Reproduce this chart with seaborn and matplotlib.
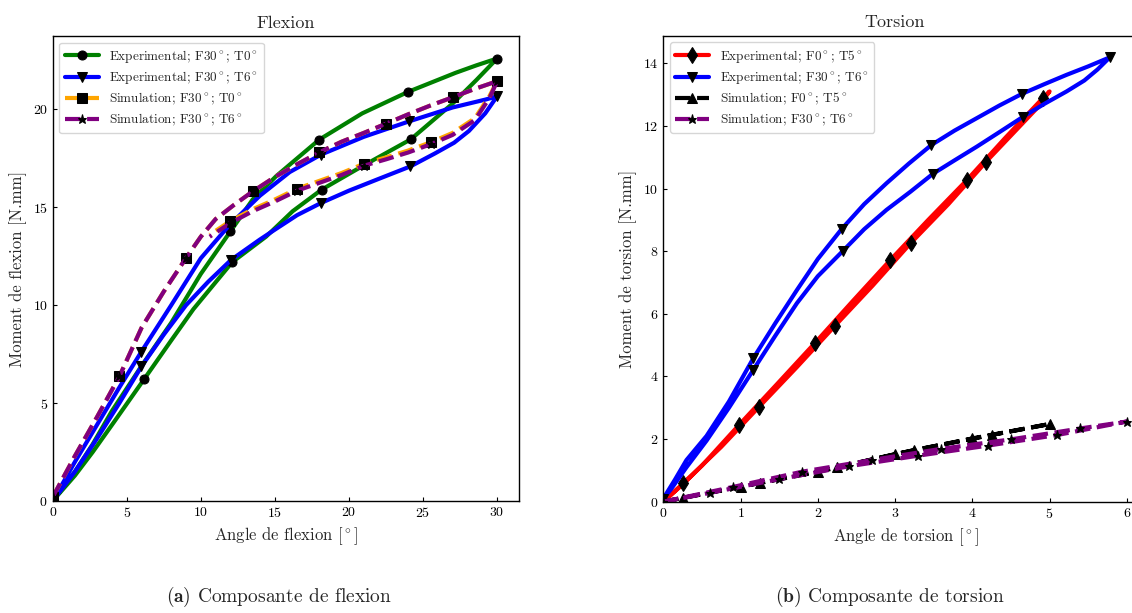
import matplotlib
matplotlib.use("Agg")
import matplotlib.pyplot as plt
import seaborn as sns

# ==========================
# Flexion data (hysteresis loops, loading then unloading)
# ==========================
flex_exp_t0_x = [0, 1.5, 2.7, 4.2, 6.17, 8.0, 9.5, 12.12, 14.4, 16.2, 18.15, 20.9, 24.17, 27.0, 28.6, 30.0,
                 28.6, 27.2, 24.0, 20.9, 18.0, 16.5, 15.1, 13.5, 12.0, 10.0, 8.0, 6.0, 4.0, 2.7, 1.5, 0]
flex_exp_t0_y = [0, 1.3, 2.5, 4.1, 6.22, 8.2, 9.8, 12.2, 13.5, 14.8, 15.9, 17.1, 18.47, 20.3, 21.5, 22.6,
                 22.25, 21.87, 20.9, 19.8, 18.46, 17.5, 16.6, 15.4, 13.77, 11.6, 9.1, 6.9, 4.6, 2.9, 1.5, 0]
flex_exp_t0_marks = [0, 4, 7, 10, 12, 15, 18, 20, 24]

flex_exp_t6_x = [0, 1.5, 3.0, 4.5, 5.99, 7.5, 9.0, 10.5, 12.05, 13.96, 15.08, 16.5, 18.11, 20.0, 22.0, 24.15,
                 25.8, 27.1, 28.1, 29.2, 30.0,
                 29.2, 27.0, 24.06, 21.0, 18.11, 16.0, 14.0, 11.94, 10.0, 8.0, 5.99, 4.5, 3.0, 1.5, 0]
flex_exp_t6_y = [0, 1.5, 3.2, 5.0, 6.87, 8.5, 10.0, 11.2, 12.32, 13.34, 13.9, 14.6, 15.22, 15.85, 16.45, 17.09,
                 17.75, 18.3, 18.9, 19.8, 20.67,
                 20.5, 20.1, 19.39, 18.6, 17.69, 16.8, 15.6, 14.1, 12.4, 10.0, 7.63, 5.8, 3.9, 2.0, 0]
flex_exp_t6_marks = [0, 4, 8, 12, 15, 20, 23, 25, 28, 31]

flex_sim_t0_x = [0, 1.5, 3.0, 4.5, 6.0, 7.5, 9.0, 10.0, 11.0, 12.2, 13.5, 15.0, 16.5, 18.0, 19.5, 21.0, 22.5,
                 24.0, 25.5, 27.0, 28.5, 30.0,
                 29.5, 28.5, 27.0, 25.55, 24.0, 22.5, 21.03, 19.5, 18.0, 16.5, 15.0, 13.5, 12.0, 10.6]
flex_sim_t0_y = [0.2, 2.3, 4.3, 6.36, 8.85, 10.7, 12.41, 13.5, 14.4, 15.1, 15.81, 16.55, 17.2, 17.81, 18.35,
                 18.8, 19.27, 19.75, 20.2, 20.62, 21.05, 21.44,
                 20.7, 19.55, 18.8, 18.33, 17.9, 17.55, 17.23, 16.75, 16.35, 15.95, 15.4, 14.9, 14.3, 13.6]
flex_sim_t0_marks = [0, 3, 6, 10, 13, 16, 19, 21, 25, 28, 31, 34]

flex_sim_t6_x = [0, 1.5, 3.0, 4.5, 6.0, 7.5, 9.0, 10.0, 11.0, 12.2, 13.5, 15.0, 16.5, 18.0, 19.5, 21.0, 22.5,
                 24.0, 25.5, 27.0, 28.5, 30.0,
                 29.5, 28.5, 27.0, 25.55, 24.0, 22.5, 21.03, 19.5, 18.0, 16.5, 15.0, 13.5, 12.0, 10.6]
flex_sim_t6_y = [0.2, 2.3, 4.3, 6.36, 8.85, 10.7, 12.41, 13.5, 14.4, 15.1, 15.81, 16.55, 17.2, 17.81, 18.35,
                 18.8, 19.27, 19.75, 20.2, 20.62, 21.05, 21.44,
                 20.6, 19.45, 18.7, 18.23, 17.8, 17.45, 17.13, 16.65, 16.25, 15.85, 15.3, 14.8, 14.2, 13.5]
flex_sim_t6_marks = [0, 3, 6, 10, 13, 16, 19, 21, 25, 28, 31, 34]

# ==========================
# Torsion data
# ==========================
tors_exp_f0_x = [0, 0.25, 0.5, 0.98, 1.47, 1.96, 2.45, 2.94, 3.43, 3.93, 4.42, 4.91, 5.0,
                 4.85, 4.18, 3.69, 3.2, 2.71, 2.22, 1.73, 1.24, 0.75, 0.26, 0]
tors_exp_f0_y = [0, 0.55, 1.15, 2.45, 3.75, 5.06, 6.4, 7.72, 9.0, 10.27, 11.6, 12.88, 13.1,
                 12.6, 10.86, 9.5, 8.25, 6.9, 5.61, 4.3, 3.03, 1.75, 0.59, 0]
tors_exp_f0_marks = [0, 3, 5, 7, 9, 11, 14, 16, 18, 20, 22]

tors_exp_f30_x = [0, 0.15, 0.3, 0.56, 0.85, 1.165, 1.45, 1.73, 2.0, 2.31, 2.6, 2.89, 3.18, 3.47, 3.77, 4.06,
                  4.35, 4.64, 4.93, 5.22, 5.5, 5.78,
                  5.62, 5.45, 5.22, 4.93, 4.65, 4.35, 4.06, 3.77, 3.49, 3.2, 2.89, 2.6, 2.33, 2.0, 1.73, 1.45,
                  1.165, 0.85, 0.56, 0.3, 0.1, 0]
tors_exp_f30_y = [0.1, 0.7, 1.33, 2.1, 3.2, 4.58, 5.7, 6.76, 7.75, 8.71, 9.5, 10.17, 10.8, 11.39, 11.85, 12.25,
                  12.65, 13.02, 13.33, 13.63, 13.9, 14.19,
                  13.8, 13.45, 13.1, 12.7, 12.28, 11.8, 11.34, 10.9, 10.47, 9.9, 9.32, 8.7, 8.02, 7.2, 6.34, 5.3,
                  4.21, 3.0, 1.95, 1.1, 0.4, 0.1]
tors_exp_f30_marks = [0, 5, 9, 13, 17, 21, 26, 30, 34, 38]

tors_sim_f0_x = [0, 1, 2, 3, 4, 5, 4.25, 3.25, 2.25, 1.25, 0.25, 0]
tors_sim_f0_y = [0, 0.48, 0.95, 1.52, 2.02, 2.48, 2.13, 1.65, 1.1, 0.6, 0.12, 0]

tors_sim_f30_x = [0, 0.9, 1.8, 2.7, 3.6, 4.5, 5.4, 6.0, 5.1, 4.2, 3.3, 2.4, 1.5, 0.6, 0]
tors_sim_f30_y = [0, 0.47, 0.96, 1.33, 1.69, 1.99, 2.34, 2.56, 2.13, 1.79, 1.47, 1.13, 0.72, 0.28, 0]

DEG = r"$^\circ$"

# ==========================
# Style
# ==========================
sns.set_style("ticks")
plt.rcParams["font.family"] = ["cmr10", "DejaVu Serif"]
plt.rcParams["mathtext.fontset"] = "cm"
plt.rcParams["axes.formatter.use_mathtext"] = True
plt.rcParams["axes.edgecolor"] = "black"
plt.rcParams["axes.linewidth"] = 1.0
plt.rcParams["xtick.direction"] = "in"
plt.rcParams["ytick.direction"] = "in"
plt.rcParams["xtick.color"] = "black"
plt.rcParams["ytick.color"] = "black"

fig = plt.figure(figsize=(11.32, 6.13), dpi=100)
ax1 = fig.add_axes([52.7 / 1132, 1 - 501 / 613, 466.6 / 1132, 465 / 613])
ax2 = fig.add_axes([663.3 / 1132, 1 - 501.7 / 613, 486.7 / 1132, 466 / 613])


def courbe(ax, x, y, color, ls, marker, marks, label, ms=6.5):
    sns.lineplot(x=x, y=y, ax=ax, sort=False, estimator=None, color=color, lw=3, ls=ls,
                 marker=marker, markevery=marks, ms=ms, mfc="black", mec="black", label=label)


# --- Flexion ---
courbe(ax1, flex_exp_t0_x, flex_exp_t0_y, "green", "-", "o", flex_exp_t0_marks,
       f"Experimental; F30{DEG}; T0{DEG}")
courbe(ax1, flex_exp_t6_x, flex_exp_t6_y, "blue", "-", "v", flex_exp_t6_marks,
       f"Experimental; F30{DEG}; T6{DEG}")
courbe(ax1, flex_sim_t0_x, flex_sim_t0_y, "orange", "--", "s", flex_sim_t0_marks,
       f"Simulation; F30{DEG}; T0{DEG}")
courbe(ax1, flex_sim_t6_x, flex_sim_t6_y, "purple", "--", "*", flex_sim_t6_marks,
       f"Simulation; F30{DEG}; T6{DEG}")
ax1.set_xlim(0, 31.5)
ax1.set_ylim(0, 23.75)
ax1.set_title("Flexion", fontsize=13)
ax1.set_xlabel(f"Angle de flexion [{DEG}]", fontsize=12)
ax1.set_ylabel("Moment de flexion [N.mm]", fontsize=12)

# --- Torsion ---
courbe(ax2, tors_exp_f0_x, tors_exp_f0_y, "red", "-", "d", tors_exp_f0_marks,
       f"Experimental; F0{DEG}; T5{DEG}", ms=8)
courbe(ax2, tors_exp_f30_x, tors_exp_f30_y, "blue", "-", "v", tors_exp_f30_marks,
       f"Experimental; F30{DEG}; T6{DEG}")
courbe(ax2, tors_sim_f0_x, tors_sim_f0_y, "black", "--", "^", None,
       f"Simulation; F0{DEG}; T5{DEG}")
courbe(ax2, tors_sim_f30_x, tors_sim_f30_y, "purple", "--", "*", None,
       f"Simulation; F30{DEG}; T6{DEG}")
ax2.set_xlim(0, 6.3)
ax2.set_ylim(0, 14.88)
ax2.set_title("Torsion", fontsize=13, x=0.476)
ax2.set_xlabel(f"Angle de torsion [{DEG}]", fontsize=12)
ax2.set_ylabel("Moment de torsion [N.mm]", fontsize=12)

for ax in (ax1, ax2):
    ax.tick_params(axis="both", which="major", length=3, labelsize=10, top=False, right=False)
    ax.legend(loc="upper left", fontsize=9.5, handlelength=2.6, labelspacing=0.35,
              framealpha=0.8, edgecolor="0.8")
    for s in ax.spines.values():
        s.set_visible(True)
        s.set_color("black")

fig.text(279 / 1132, 1 - 597 / 613, r"$\mathbf{(a)}$ Composante de flexion", ha="center", va="center", fontsize=14)
fig.text(890 / 1132, 1 - 597 / 613, r"$\mathbf{(b)}$ Composante de torsion", ha="center", va="center", fontsize=14)

fig.savefig("out.png", dpi=100)
plt.close(fig)
